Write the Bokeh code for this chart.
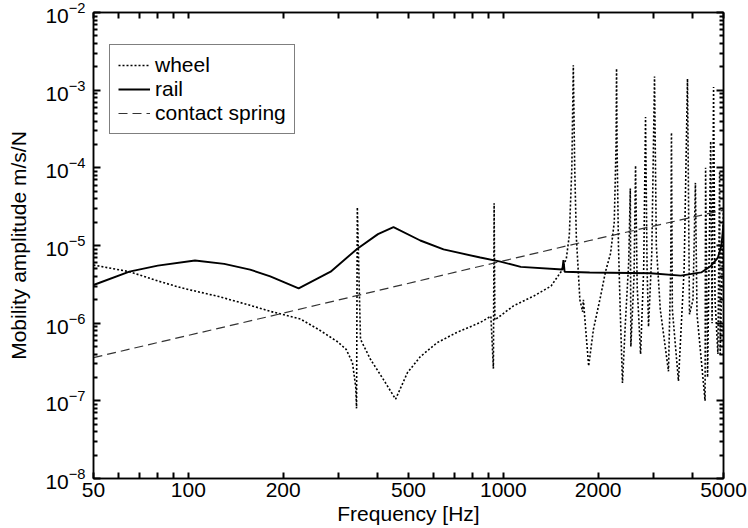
from bokeh.plotting import figure
from bokeh.models import (LogAxis, FixedTicker, Legend, LegendItem,
                          CustomJSTickFormatter, BasicTickFormatter)
from bokeh.embed import file_html
from bokeh.resources import INLINE

# ---------------- data ----------------
wheel_f = [50, 65, 80, 95, 125, 157, 182, 227, 259, 297, 317, 332, 340, 342,
           344, 352, 379, 417, 455, 496, 545, 616, 712, 845, 913, 930, 935, 940,
           1077, 1250, 1417, 1525, 1585, 1620, 1650, 1668, 1685, 1705, 1750,
           1785, 1795, 1810, 1866, 1932, 2035, 2110, 2190, 2250, 2280, 2288,
           2296, 2320, 2350, 2389, 2440, 2500, 2530, 2540, 2600, 2629, 2660,
           2727, 2790, 2828, 2860, 2890, 2960, 3020, 3060, 3150, 3344, 3400,
           3418, 3440, 3597, 3750, 3843, 3900, 4000, 4072, 4120, 4370, 4387,
           4450, 4553, 4600, 4650, 4700, 4800, 4860, 4880, 4950, 5000]
wheel_v = [5.6e-6, 4.6e-6, 3.5e-6, 2.85e-6, 2.2e-6, 1.7e-6, 1.42e-6, 1.13e-6,
           8.3e-7, 5.8e-7, 4.6e-7, 3.1e-7, 1.5e-7, 8e-8,
           3.1e-5, 6.2e-7, 3.4e-7, 1.86e-7, 1.05e-7, 2.3e-7, 3.7e-7, 5.6e-7,
           7.6e-7, 1.02e-6, 1.23e-6, 2.6e-7, 3.5e-5, 1.1e-6,
           1.67e-6, 2.24e-6, 3.0e-6, 4.6e-6, 6.8e-6, 1.35e-5, 1e-4, 2.1e-3,
           1e-4, 1.3e-5, 2.0e-6,
           1.4e-6, 2.0e-6, 1.3e-6, 2.8e-7, 8.3e-7, 2.2e-6, 4.6e-6, 7.9e-6,
           2.0e-5, 2.0e-4, 1.9e-3,
           2.0e-4, 1.0e-5, 1.5e-6, 1.7e-7, 1.0e-6, 6.0e-6, 5.4e-5, 5.0e-7,
           4.0e-6, 1.07e-4, 3.0e-6,
           4.0e-7, 5.0e-6, 4.5e-4, 5.0e-6, 9.0e-7, 8.0e-6, 1.5e-3, 1.0e-5,
           1.5e-6, 2.4e-7, 5.0e-6,
           2.85e-4, 1.5e-6, 1.8e-7, 5.0e-6, 1.4e-3, 1.3e-6, 2.0e-6, 6.4e-5,
           1.3e-6, 1.0e-7, 1.0e-4,
           2.0e-7, 2.2e-4, 1.0e-6, 1.1e-3, 2.0e-6, 4.0e-7, 9.0e-5, 3.8e-7,
           5.0e-6, 3.0e-5]

rail_f = [50, 65, 80, 105, 130, 157, 182, 224, 283, 344, 400, 448, 545, 646,
          845, 979, 1136, 1540, 1552, 1565, 1880, 2935, 3659, 4248, 4570, 4800,
          4924, 5000]
rail_v = [3.1e-6, 4.6e-6, 5.5e-6, 6.4e-6, 5.8e-6, 4.9e-6, 4.0e-6, 2.8e-6,
          4.6e-6, 9.1e-6, 1.4e-5, 1.72e-5, 1.16e-5, 8.9e-6,
          7.0e-6, 6.2e-6, 5.3e-6, 4.9e-6, 6.5e-6, 4.6e-6, 4.5e-6, 4.4e-6,
          4.1e-6, 4.5e-6, 5.5e-6, 7.0e-6, 1.0e-5, 1.9e-5]

spring_f = [50, 182, 845, 1880, 5000]
spring_v = [3.6e-7, 1.23e-6, 5.4e-6, 1.16e-5, 2.85e-5]

x_ticks = [50, 100, 200, 500, 1000, 2000, 5000]
x_minor = [60, 70, 80, 90, 300, 400, 600, 700, 800, 900, 3000, 4000]
y_ticks = [1e-8, 1e-7, 1e-6, 1e-5, 1e-4, 1e-3, 1e-2]
y_minor = [k * 10.0 ** e for e in range(-8, -2) for k in range(2, 10)]

FONT = "Liberation Sans"
FS = "21px"

p = figure(width=748, height=528, x_axis_type="log", y_axis_type="log",
           x_range=(50, 5000), y_range=(1e-8, 1e-2),
           output_backend="svg", toolbar_location=None,
           min_border_left=93, min_border_right=25,
           min_border_top=12, min_border_bottom=50)
p.outline_line_color = "black"
p.outline_line_width = 1.5
p.xgrid.visible = False
p.ygrid.visible = False

rw = p.line(wheel_f, wheel_v, line_color="black", line_width=1.6,
            line_dash="2 2")
rr = p.line(rail_f, rail_v, line_color="black", line_width=1.9)
rs = p.line(spring_f, spring_v, line_color="#333333", line_width=1.2,
            line_dash="9 5")


def style(ax, major_in, minor_in):
    ax.axis_line_color = "black"
    ax.axis_line_width = 1.5
    ax.major_tick_line_color = "black"
    ax.minor_tick_line_color = "black"
    ax.major_tick_line_width = 2
    ax.minor_tick_line_width = 2
    ax.major_tick_in = major_in
    ax.major_tick_out = 0
    ax.minor_tick_in = minor_in
    ax.minor_tick_out = 0
    ax.major_label_text_font = FONT
    ax.major_label_text_font_size = FS
    ax.major_label_text_color = "black"
    ax.axis_label_text_font = FONT
    ax.axis_label_text_font_size = FS
    ax.axis_label_text_font_style = "normal"
    ax.axis_label_text_color = "black"


xax = p.xaxis[0]
xax.ticker = FixedTicker(ticks=x_ticks, minor_ticks=x_minor)
xax.formatter = BasicTickFormatter(use_scientific=False)
xax.axis_label = "Frequency [Hz]"
style(xax, 6, 6)
xax.major_label_standoff = 4
xax.axis_label_standoff = 2

yax = p.yaxis[0]
yax.ticker = FixedTicker(ticks=y_ticks, minor_ticks=y_minor)
yax.axis_label = "Mobility amplitude m/s/N"
style(yax, 7, 4)
yax.major_label_standoff = 8
yax.axis_label_standoff = 12

empty = CustomJSTickFormatter(code="return ''")
top = LogAxis(ticker=FixedTicker(ticks=x_ticks, minor_ticks=x_minor),
              formatter=empty)
style(top, 6, 6)
top.major_label_standoff = 0
p.add_layout(top, "above")

right = LogAxis(ticker=FixedTicker(ticks=y_ticks, minor_ticks=y_minor),
                formatter=empty)
style(right, 7, 4)
right.major_label_standoff = 0
p.add_layout(right, "right")

legend = Legend(items=[LegendItem(label="wheel", renderers=[rw]),
                       LegendItem(label="rail", renderers=[rr]),
                       LegendItem(label="contact spring", renderers=[rs])],
                location=(16, 344))
legend.border_line_color = "black"
legend.border_line_width = 1.5
legend.background_fill_color = "white"
legend.background_fill_alpha = 1
legend.label_text_font = FONT
legend.label_text_font_size = FS
legend.label_text_color = "black"
legend.glyph_width = 32
legend.glyph_height = 20
legend.label_height = 20
legend.label_standoff = 5
legend.spacing = 0
legend.padding = 8
legend.margin = 0
p.add_layout(legend)

open("out.html", "w").write(file_html(p, INLINE))
